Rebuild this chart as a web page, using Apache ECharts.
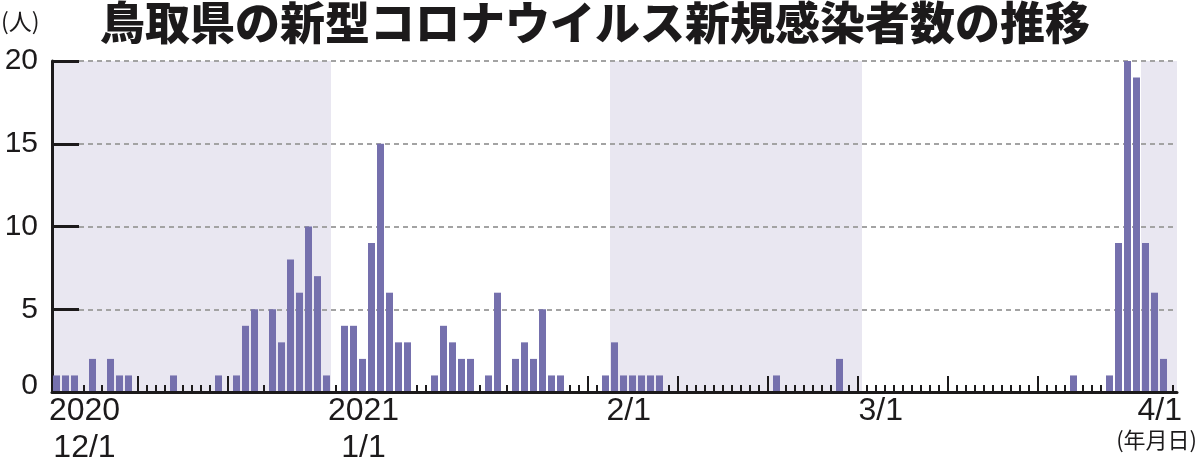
<!DOCTYPE html>
<html><head><meta charset="utf-8">
<script src="https://cdn.jsdelivr.net/npm/echarts@6/dist/echarts.min.js"></script>
<style>html,body{margin:0;padding:0;background:#fff}#c{width:1200px;height:462px}</style>
</head><body><div id="c"></div>
<script>
const titleText = '鳥取県の新型コロナウイルス新規感染者数の推移';
const yUnit = '(人)';
const xUnit = '(年月日)';
const monthNames = [12, 1, 2, 3, 4];
const monthDays = [31, 31, 28, 31, 4];
const decCases = [1,1,1,0,2,0,2,1,1,0, 0,0,0,1,0,0,0,0,1,0, 1,4,5,0,5,3,8,6,10,7, 1];
const janCases = [0,4,4,2,9,15,6,3,3,0, 0,1,4,3,2,2,0,1,6,0, 2,3,2,5,1,1,0,0,0,0, 1];
const febCases = [3,1,1,1,1,1,0,0,0,0, 0,0,0,0,0,0,0,0,1,0, 0,0,0,0,0,2,0,0];
const marCases = [0,0,0,0,0,0,0,0,0,0, 0,0,0,0,0,0,0,0,0,0, 0,0,0,1,0,0,0,1,9,20, 19];
const aprCases = [9,6,2,0];
const yMin = 0, yMax = 20, yStep = 5;
const tickYears = {'12/1': '2020', '1/1': '2021'};
const shadedMonths = [['12/1', '12/31'], ['2/1', '2/28'], ['4/1', '4/4']];

const categories = [];
monthNames.forEach((m, k) => { for (let d = 1; d <= monthDays[k]; d++) categories.push(m + '/' + d); });
const cases = [].concat(decCases, janCases, febCases, marCases, aprCases);

const numFont = "'Liberation Sans Narrow', 'Arial Narrow', 'Liberation Sans', sans-serif";
const cjkFont = "'Noto Sans CJK JP', sans-serif";
const ink = '#1c1a1b';

const chart = echarts.init(document.getElementById('c'), null, {renderer: 'canvas'});
const tickAxis = (len, interval) => ({
  type: 'category', data: categories, position: 'bottom', boundaryGap: true, z: 1.5,
  axisLine: {show: false}, axisLabel: {show: false}, splitLine: {show: false},
  axisTick: {show: true, inside: true, alignWithLabel: true, length: len, interval: interval,
             lineStyle: {color: ink, width: 2}}
});
chart.setOption({
  animation: false,
  title: {text: titleText, left: 100, top: 0, padding: 0,
          textStyle: {fontSize: 45, fontWeight: 900, color: ink, fontFamily: cjkFont}},
  graphic: [
    {type: 'text', left: 1, top: 10, style: {text: yUnit, fontSize: 23, fill: ink, fontFamily: cjkFont}},
    {type: 'text', right: 3, top: 429, style: {text: xUnit, fontSize: 22, fill: ink, fontFamily: cjkFont}}
  ],
  grid: {left: 52, right: 23, top: 61, bottom: 70, containLabel: false, outerBoundsMode: 'none'},
  xAxis: [
    {type: 'category', data: categories, position: 'bottom', boundaryGap: true, z: 3,
     axisLine: {show: true, lineStyle: {color: ink, width: 3}},
     axisTick: {show: false, interval: 0},
     axisLabel: {
       interval: (i, v) => v.split('/')[1] === '1',
       formatter: (v) => tickYears[v] ? '{c|' + tickYears[v] + '}\n{c|' + v + '}' : '{s|' + v + '}',
       align: 'left', margin: 1, padding: [0, 0, 0, -8], color: ink,
       rich: {
         c: {width: 56, align: 'center', padding: [0, 0, 0, 8], fontSize: 32, lineHeight: 37, fontFamily: numFont, color: ink},
         s: {fontSize: 32, lineHeight: 37, fontFamily: numFont, color: ink}
       }
     }},
    tickAxis(7, 0),
    tickAxis(16, (i) => i % 10 === 9)
  ],
  yAxis: [
    {type: 'value', position: 'left', min: yMin, max: yMax, interval: yStep, z: 1.5,
     axisLine: {show: true, lineStyle: {color: ink, width: 3}},
     axisTick: {show: false},
     axisLabel: {margin: 14, fontSize: 30, color: ink, fontFamily: numFont,
                 formatter: (v) => v === 0 ? '{z|0}' : String(v),
                 rich: {z: {fontSize: 30, fontFamily: numFont, color: ink, padding: [0, 0, 12, 0]}}},
     splitLine: {show: true, lineStyle: {color: '#a3a3a3', width: 2, type: [5, 4]}}},
    {type: 'value', position: 'left', offset: 0, min: yMin, max: yMax, interval: yStep, z: 3,
     axisLine: {show: false}, axisLabel: {show: false}, splitLine: {show: false},
     axisTick: {show: true, inside: true, length: 27, lineStyle: {color: ink, width: 3}}}
  ],
  series: [{
    type: 'bar', xAxisIndex: 0, yAxisIndex: 0, data: cases, barWidth: 7,
    itemStyle: {color: '#7570ad'},
    markArea: {silent: true, itemStyle: {color: '#e9e7f1'},
               data: shadedMonths.map(([a, b]) => [{xAxis: a}, {xAxis: b}])}
  }]
});
</script></body></html>
